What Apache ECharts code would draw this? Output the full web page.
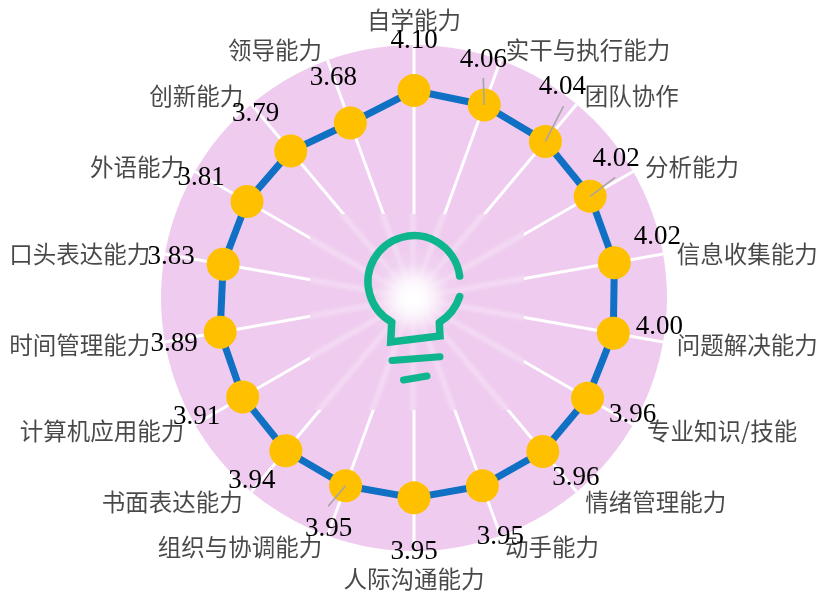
<!DOCTYPE html>
<html><head><meta charset="utf-8">
<style>html,body{margin:0;padding:0;background:#fff}#c{width:820px;height:593px}</style>
<script src="https://cdn.jsdelivr.net/npm/echarts@6/dist/echarts.min.js"></script>
</head><body><div id="c"></div>
<script>
const categories = ['自学能力','实干与执行能力','团队协作','分析能力','信息收集能力','问题解决能力','专业知识/技能','情绪管理能力','动手能力','人际沟通能力','组织与协调能力','书面表达能力','计算机应用能力','时间管理能力','口头表达能力','外语能力','创新能力','领导能力'];
const values = [4.10,4.06,4.04,4.02,4.02,4.00,3.96,3.96,3.95,3.95,3.95,3.94,3.91,3.89,3.83,3.81,3.79,3.68];
const axisMax = 5;
// label nudges from the data point (px)
const valueNudge = [[0,-50],[-1,-45],[17,-54],[26,-37],[43,-26],[46,-6],[45,17],[33,26],[18,51],[0,54],[-17,43],[-34,30],[-46,20],[-46,12],[-52,-7],[-46,-24],[-35,-37],[-17,-45]];
// leader lines: data index -> end nudge from the data point (px)
const leaders = {1:[-1,-27],2:[18,-35],3:[25,-19],10:[-17.5,20.5]};
// category label nudges from the rim of the chart (px)
const nameNudge = [[0,-25],[87.5,-10],[55,-8],[59,-4.5],[84,0],[84,3],[89,6.5],[79,10],[51.5,11],[0,28],[-87.5,11],[-79,10],[-93,6.5],[-85,3],[-85,0],[-58,-4.5],[-55,-8],[-52.5,-10]];
const C = [414,298], R = 253;

const chart = echarts.init(document.getElementById('c'), null, {renderer:'canvas'});

function glowImage(){
  const w=214,h=196,cx=103,cy=84; const cv=document.createElement('canvas'); cv.width=w; cv.height=h;
  const g=cv.getContext('2d');
  g.fillStyle='#EFCBEF'; g.fillRect(0,0,w,h);
  g.filter='blur(2px)'; g.lineCap='round';
  for(let i=0;i<18;i++){
    const a=i*20*Math.PI/180;
    g.strokeStyle='rgba(255,255,255,0.42)'; g.lineWidth=4;
    g.beginPath(); g.moveTo(cx,cy); g.lineTo(cx+Math.sin(a)*260,cy-Math.cos(a)*260); g.stroke();
    const b=a+10*Math.PI/180;
    g.strokeStyle='rgba(255,255,255,0.28)'; g.lineWidth=2.4;
    g.beginPath(); g.moveTo(cx,cy); g.lineTo(cx+Math.sin(b)*46,cy-Math.cos(b)*46); g.stroke();
  }
  g.filter='blur(3px)';
  const r=g.createRadialGradient(cx,cy,2,cx,cy,36);
  r.addColorStop(0,'rgba(255,255,255,1)'); r.addColorStop(.4,'rgba(255,255,255,.8)'); r.addColorStop(1,'rgba(255,255,255,0)');
  g.fillStyle=r; g.fillRect(0,0,w,h);
  return cv;
}
const bulb='#0FB58D';
const stroke={stroke:bulb,lineWidth:7.5,fill:null,lineCap:'round',lineJoin:'miter'};
const last = categories.length-1;
chart.setOption({
  animation:false,
  backgroundColor:'#fff',
  polar:{center:C,radius:R},
  angleAxis:{type:'category',data:categories,startAngle:90,clockwise:true,boundaryGap:false,
    axisLine:{show:false},axisTick:{show:false},axisLabel:{show:false},
    splitLine:{show:true,lineStyle:{color:'#fff',width:3}}},
  radiusAxis:{min:0,max:axisMax,interval:axisMax,axisLine:{show:false},axisTick:{show:false},axisLabel:{show:false},
    splitLine:{show:false},splitArea:{show:true,areaStyle:{color:['#EFCBEF']}}},
  graphic:[
    {type:'image',z:5,left:310,top:214,style:{image:glowImage(),width:214,height:196}},
    {type:'arc',z:6,shape:{cx:414,cy:281.7,r:46,startAngle:119*Math.PI/180,endAngle:353*Math.PI/180,clockwise:true},style:stroke},
    {type:'arc',z:6,shape:{cx:414,cy:281.7,r:48,startAngle:18*Math.PI/180,endAngle:58*Math.PI/180,clockwise:true},style:stroke},
    {type:'polyline',z:6,shape:{points:[[391.7,321.7],[390.7,342],[440,336],[439.3,323.3]]},style:Object.assign({},stroke,{lineCap:'butt'})},
    {type:'line',z:6,shape:{x1:392,y1:360.5,x2:440,y2:356.7},style:Object.assign({},stroke,{lineWidth:7})},
    {type:'line',z:6,shape:{x1:403.5,y1:380,x2:427,y2:376},style:Object.assign({},stroke,{lineWidth:7})}
  ],
  series:[
    {type:'custom',coordinateSystem:'polar',z:8,silent:true,clip:false,
     data:[[values[last],last,values[0],0]],
     encode:{radius:0,angle:1},
     renderItem:(params,api)=>{
       const a=api.coord([api.value(0),api.value(1)]), b=api.coord([api.value(2),api.value(3)]);
       return {type:'line',shape:{x1:a[0],y1:a[1],x2:b[0],y2:b[1]},style:{stroke:'#1070C4',lineWidth:7}};
     }},
    {type:'line',coordinateSystem:'polar',z:10,
     data:values,
     symbol:'circle',symbolSize:33,showAllSymbol:true,
     lineStyle:{color:'#1070C4',width:7},itemStyle:{color:'#FFC000',opacity:1},
     label:{show:true,position:'inside',color:'#000',fontFamily:'"Liberation Serif",serif',fontSize:27,formatter:p=>p.value.toFixed(2)},
     labelLayout:p=>({dx:valueNudge[p.dataIndex][0],dy:valueNudge[p.dataIndex][1]})},
    {type:'custom',coordinateSystem:'polar',z:12,silent:true,
     data:Object.keys(leaders).map(k=>[values[k],+k]),
     encode:{radius:0,angle:1},
     renderItem:(params,api)=>{
       const i=api.value(1), p=api.coord([api.value(0),i]), n=leaders[i];
       return {type:'line',shape:{x1:p[0],y1:p[1],x2:p[0]+n[0],y2:p[1]+n[1]},style:{stroke:'#A6A6A6',lineWidth:1.6}};
     }},
    {type:'scatter',coordinateSystem:'polar',z:9,silent:true,symbolSize:0,
     data:categories.map(c=>({name:c,value:[axisMax,c]})),
     label:{show:true,position:'inside',color:'#1a1a1a',fontFamily:'"Noto Sans CJK SC",serif',fontWeight:'normal',fontSize:23.5,formatter:p=>p.name},
     labelLayout:p=>({dx:nameNudge[p.dataIndex][0],dy:nameNudge[p.dataIndex][1]})}
  ]
});
</script></body></html>
